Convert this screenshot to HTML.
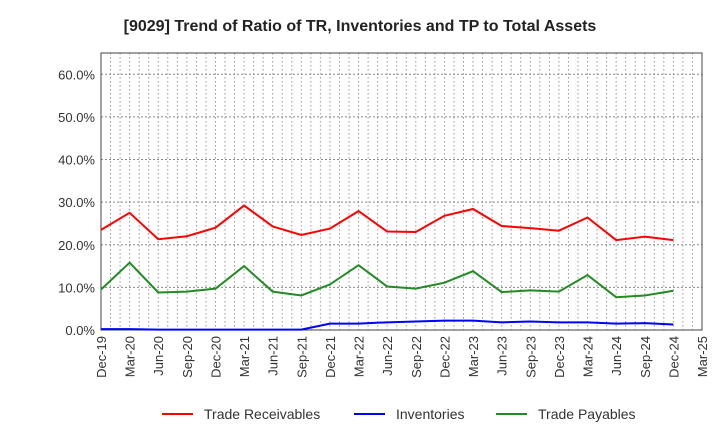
<!DOCTYPE html>
<html><head><meta charset="utf-8"><style>
body{margin:0;background:#fff;font-family:"Liberation Sans",sans-serif}
</style></head><body>
<svg id="c" width="720" height="440" xmlns="http://www.w3.org/2000/svg">
<text x="360" y="31" text-anchor="middle" font-size="16" font-weight="bold" fill="#222">[9029]  Trend of Ratio of TR, Inventories and TP to Total Assets</text>
<g id="grid"></g><g id="axes"></g><g id="series"></g><g id="legend"></g>
</svg>
<script>
const categories=["Dec-19","Mar-20","Jun-20","Sep-20","Dec-20","Mar-21","Jun-21","Sep-21","Dec-21","Mar-22","Jun-22","Sep-22","Dec-22","Mar-23","Jun-23","Sep-23","Dec-23","Mar-24","Jun-24","Sep-24","Dec-24","Mar-25"];
const tradeReceivables=[23.5,27.5,21.3,22.0,24.0,29.2,24.3,22.3,23.8,27.9,23.1,23.0,26.8,28.4,24.4,23.9,23.3,26.4,21.1,21.9,21.1];
const inventories=[0.2,0.2,0.1,0.1,0.1,0.1,0.1,0.1,1.5,1.5,1.8,2.0,2.2,2.2,1.8,2.0,1.8,1.8,1.5,1.6,1.3];
const tradePayables=[9.5,15.8,8.8,9.0,9.7,15.0,9.0,8.1,10.7,15.2,10.2,9.7,11.1,13.8,8.9,9.3,9.0,12.9,7.7,8.1,9.2];
const yTicks=[0,10,20,30,40,50,60];
const NS="http://www.w3.org/2000/svg";
const L=101,R=702,T=53,B=330,yMax=65;
const x=i=>L+i*(R-L)/(categories.length-1);
const y=v=>B-v/yMax*(B-T);
function mk(tag,attrs,parent){const e=document.createElementNS(NS,tag);for(const k in attrs)e.setAttribute(k,attrs[k]);parent.appendChild(e);return e;}
const grid=document.getElementById('grid'),axes=document.getElementById('axes'),ser=document.getElementById('series'),leg=document.getElementById('legend');
for(let m=1;m<(categories.length-1)*3;m++){const xx=L+m*(R-L)/((categories.length-1)*3);
const g=mk('line',{x1:xx,x2:xx,y1:T,y2:B,stroke:'#999','stroke-dasharray':'1.5,2.5','stroke-width':1},grid);

}
yTicks.forEach(v=>{if(v>0){const g=mk('line',{x1:L,x2:R,y1:y(v),y2:y(v),stroke:'#888','stroke-dasharray':'2,2','stroke-width':1},grid);

}
const t=mk('text',{x:L-6,y:y(v)+5,'text-anchor':'end','font-size':13,fill:'#333'},axes);t.textContent=v.toFixed(1)+'%';

});
const fr=mk('rect',{x:L,y:T,width:R-L,height:B-T,fill:'none',stroke:'#444','stroke-width':1},axes);


categories.forEach((c,i)=>{const t=mk('text',{transform:`translate(${x(i)+5},${B+6}) rotate(-90)`,'text-anchor':'end','font-size':13,fill:'#333'},axes);t.textContent=c;

});
const S=[[tradeReceivables,'#ff0000','Trade Receivables',162],[inventories,'#0000ff','Inventories',354],[tradePayables,'#228b22','Trade Payables',496]];
S.forEach(([d,col,name,lx])=>{const p=mk('polyline',{points:d.map((v,i)=>x(i)+','+y(v)).join(' '),fill:'none',stroke:col,'stroke-width':2},ser);


const g=mk('g',{},leg);


mk('line',{x1:lx,x2:lx+31,y1:414,y2:414,stroke:col,'stroke-width':2},g);
const t=mk('text',{x:lx+42,y:419,'font-size':14,fill:'#333'},g);t.textContent=name;});
</script>
</body></html>
